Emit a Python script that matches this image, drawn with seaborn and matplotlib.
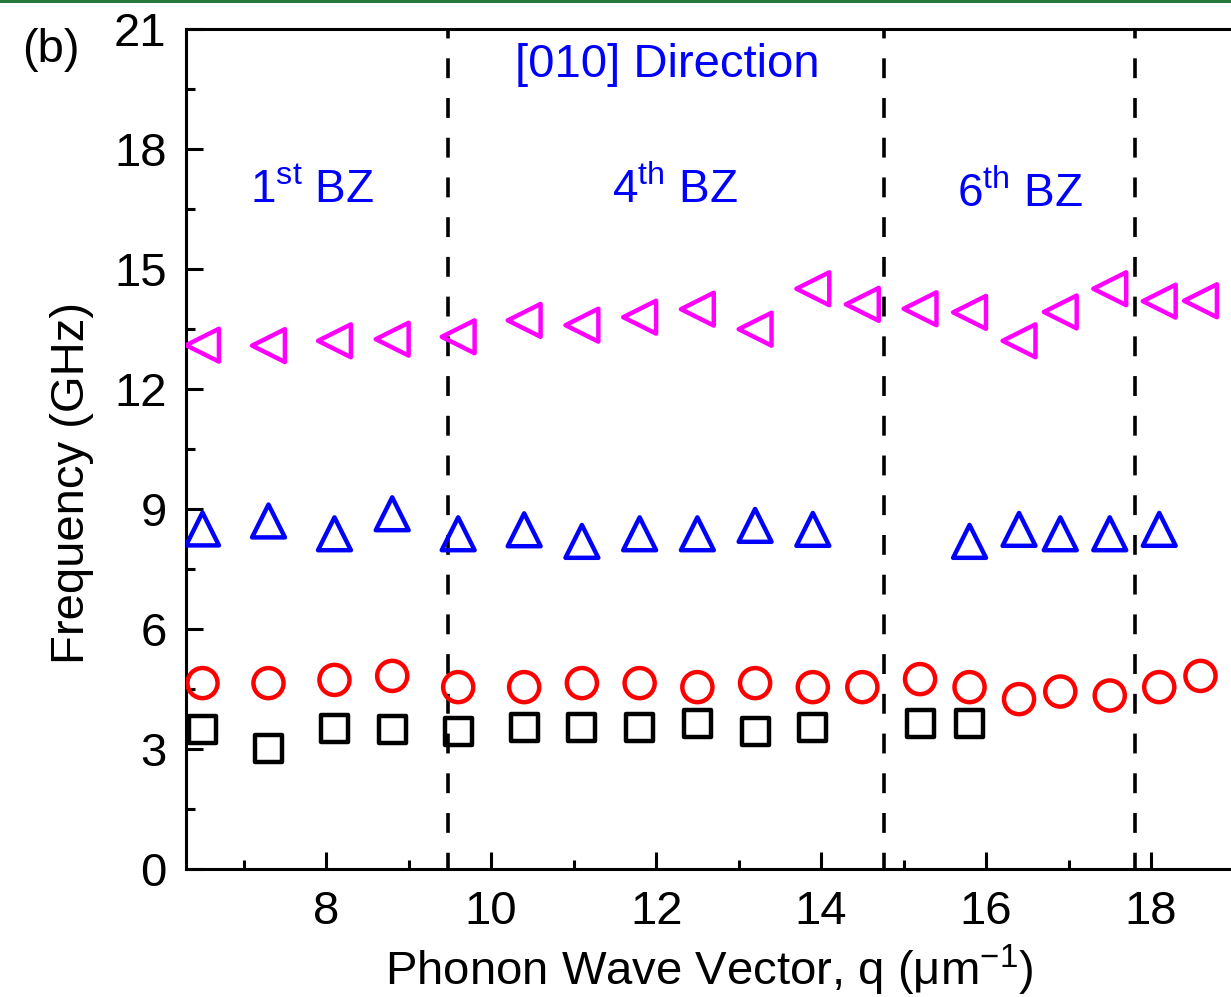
import matplotlib
matplotlib.use("Agg")
import matplotlib.pyplot as plt
from matplotlib.ticker import MultipleLocator
import pandas as pd
import seaborn as sns

# ---------------- data ----------------
q_magenta = [6.5, 7.3, 8.1, 8.8, 9.6, 10.4, 11.1, 11.8, 12.5, 13.2, 13.9,
             14.5, 15.2, 15.8, 16.4, 16.9, 17.5, 18.1, 18.6]
f_magenta = [13.09, 13.08, 13.20, 13.24, 13.30, 13.71, 13.59, 13.79, 13.99, 13.49, 14.50,
             14.11, 14.00, 13.91, 13.20, 13.92, 14.50, 14.19, 14.20]

q_blue = [6.5, 7.3, 8.1, 8.8, 9.6, 10.4, 11.1, 11.8, 12.5, 13.2, 13.9,
          15.8, 16.4, 16.9, 17.5, 18.1]
f_blue = [8.50, 8.70, 8.38, 8.88, 8.38, 8.48, 8.19, 8.38, 8.38, 8.59, 8.49,
          8.19, 8.49, 8.38, 8.38, 8.49]

q_red = [6.5, 7.3, 8.1, 8.8, 9.6, 10.4, 11.1, 11.8, 12.5, 13.2, 13.9,
         14.5, 15.2, 15.8, 16.4, 16.9, 17.5, 18.1, 18.6]
f_red = [4.65, 4.65, 4.73, 4.83, 4.55, 4.55, 4.65, 4.65, 4.55, 4.65, 4.55,
         4.55, 4.75, 4.55, 4.25, 4.44, 4.34, 4.55, 4.83]

q_black = [6.5, 7.3, 8.1, 8.8, 9.6, 10.4, 11.1, 11.8, 12.5, 13.2, 13.9, 15.2, 15.8]
f_black = [3.48, 3.02, 3.52, 3.48, 3.44, 3.54, 3.54, 3.54, 3.65, 3.44, 3.54, 3.65, 3.65]

bz_boundaries = [9.48, 14.76, 17.80]
zone_text = [r"1$^{\mathrm{st}}$ BZ", r"4$^{\mathrm{th}}$ BZ", r"6$^{\mathrm{th}}$ BZ"]
zone_x = [7.83, 12.23, 16.41]
zone_y = [16.95, 16.95, 16.85]
direction_text = "[010] Direction"
x_ticks = [8, 10, 12, 14, 16, 18]
y_ticks = [0, 3, 6, 9, 12, 15, 18, 21]

# ---------------- style ----------------
sns.set_style("white")
plt.rcParams["font.family"] = ["Liberation Sans", "DejaVu Sans"]
plt.rcParams["mathtext.fontset"] = "custom"
plt.rcParams["mathtext.rm"] = "Liberation Sans"
plt.rcParams["mathtext.it"] = "Liberation Sans:italic"
plt.rcParams["mathtext.bf"] = "Liberation Sans:bold"
plt.rcParams["text.color"] = "black"
plt.rcParams["axes.labelcolor"] = "black"
plt.rcParams["xtick.color"] = "black"
plt.rcParams["ytick.color"] = "black"

FS = 34

fig = plt.figure(figsize=(12.31, 9.97), dpi=100)
ax = fig.add_axes([0.1511, 0.1281, 0.8489, 0.8433])

series = [
    (q_magenta, f_magenta, "<", "#FF00FF", 560),
    (q_blue, f_blue, "^", "#0000FF", 560),
    (q_red, f_red, "o", "#FF0000", 470),
    (q_black, f_black, "s", "#000000", 380),
]
for qx, fy, mk, col, sz in series:
    df = pd.DataFrame({"q": qx, "f": fy})
    sns.scatterplot(data=df, x="q", y="f", ax=ax, marker=mk, s=sz,
                    facecolor="none", edgecolor=col, linewidth=3.2,
                    legend=False, zorder=3)

for xb in bz_boundaries:
    ax.axvline(xb, color="black", lw=2.6, ls=(1.0, (5.5, 5.5)), zorder=2)

ax.set_xlim(6.3, 18.97)
ax.set_ylim(0, 21)
ax.set_xticks(x_ticks)
ax.set_yticks(y_ticks)
ax.xaxis.set_minor_locator(MultipleLocator(1))
ax.yaxis.set_minor_locator(MultipleLocator(1.5))
ax.tick_params(axis="x", which="major", pad=15)
ax.tick_params(axis="y", which="major", pad=14)
ax.tick_params(which="major", direction="in", length=12.5, width=2.2,
               labelsize=FS, top=False, right=False,
               bottom=True, left=True, colors="black")
ax.tick_params(which="minor", direction="in", length=6.3, width=2.2,
               top=False, right=False, bottom=True, left=True)

for side in ["left", "bottom", "top"]:
    ax.spines[side].set_linewidth(2.2)
    ax.spines[side].set_color("black")
ax.spines["right"].set_visible(False)

ax.set_xlabel("Phonon Wave Vector, q (\u03bcm$^{-1}$)", fontsize=FS)
ax.set_ylabel("Frequency (GHz)", fontsize=FS)
ax.xaxis.set_label_coords(0.501, -0.088)
ax.yaxis.set_label_coords(-0.088, 0.46)

ax.text(12.13, 20.1, direction_text, color="#0000FF", fontsize=FS,
        ha="center", va="center")
for tx, xx, yy in zip(zone_text, zone_x, zone_y):
    ax.text(xx, yy, tx, color="#0000FF", fontsize=33, ha="center", va="center")

fig.text(22 / 1231, 1 - 50 / 997, "(b)", fontsize=FS, ha="left", va="center")

fig.add_artist(plt.Rectangle((0, 1 - 3 / 997), 1, 3 / 997,
                             transform=fig.transFigure, color="#267a3e", lw=0))

fig.savefig("out.png", dpi=100, facecolor="white")
